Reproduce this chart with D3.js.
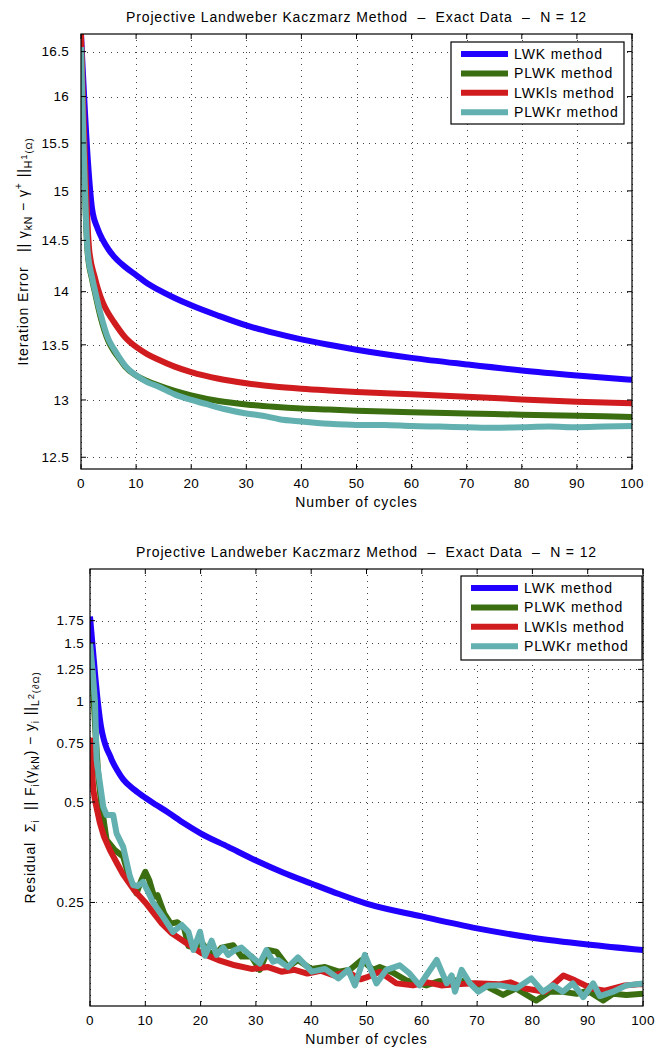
<!DOCTYPE html>
<html>
<head>
<meta charset="utf-8">
<script src="https://cdn.jsdelivr.net/npm/d3@7"></script>
<style>
  body { margin: 0; background: #fff; }
  svg text { font-family: "Liberation Sans", Arial, Helvetica, sans-serif; fill: #000; white-space: pre; }
</style>
</head>
<body>
<svg id="chart" width="657" height="1051"></svg>
<script>
// ---- data ----
const titleText = "Projective Landweber Kaczmarz Method  \u2013  Exact Data  \u2013  N = 12";
const methodNames = ["LWK method", "PLWK method", "LWKls method", "PLWKr method"];
const methodColors = ["#2200ff", "#3a6e10", "#d01c1f", "#62b1b0"];
const xTicks = [0, 10, 20, 30, 40, 50, 60, 70, 80, 90, 100];

// top panel: iteration error (log y)
const errTicks = [12.5, 13, 13.5, 14, 14.5, 15, 15.5, 16, 16.5];
const errCyclesLWK = [0, 1.3, 2, 3, 4, 5, 6, 8, 10, 12, 14, 17, 20, 25, 30, 35, 40, 45, 50, 60, 70, 80, 90, 100];
const errLWK = [16.7, 15.27, 14.82, 14.62, 14.5, 14.41, 14.34, 14.24, 14.16, 14.08, 14.02, 13.94, 13.87, 13.77, 13.68, 13.61, 13.55, 13.5, 13.455, 13.38, 13.32, 13.265, 13.22, 13.18];
const errCyclesPLWK = [0, 1.2, 2, 2.5, 3.5, 5, 6, 7, 8, 10, 12, 14, 17, 20, 25, 30, 35, 40, 45, 50, 60, 70, 80, 90, 100];
const errPLWK = [16.55, 14.38, 14.12, 14.0, 13.77, 13.53, 13.44, 13.37, 13.3, 13.22, 13.17, 13.13, 13.08, 13.04, 12.99, 12.96, 12.94, 12.925, 12.915, 12.905, 12.89, 12.88, 12.87, 12.86, 12.85];
const errCyclesLWKls = [0, 1.5, 2.5, 3, 4, 5, 6, 8, 10, 12, 14, 17, 20, 25, 30, 35, 40, 45, 50, 60, 70, 80, 90, 100];
const errLWKls = [16.7, 14.4, 14.14, 14.04, 13.89, 13.79, 13.71, 13.57, 13.48, 13.415, 13.365, 13.3, 13.25, 13.19, 13.15, 13.12, 13.1, 13.085, 13.072, 13.05, 13.028, 13.005, 12.985, 12.97];
const errCyclesPLWKr = [0, 1.2, 2, 2.5, 3.5, 5, 6, 7, 8, 10, 12, 14, 17, 20, 23, 26, 30, 33, 36, 40, 45, 50, 55, 60, 65, 70, 75, 80, 85, 90, 95, 100];
const errPLWKr = [16.55, 14.4, 14.14, 14.02, 13.8, 13.55, 13.46, 13.38, 13.31, 13.22, 13.16, 13.12, 13.05, 13.0, 12.96, 12.92, 12.88, 12.86, 12.83, 12.81, 12.79, 12.78, 12.78, 12.77, 12.765, 12.76, 12.755, 12.76, 12.765, 12.76, 12.765, 12.77];

// bottom panel: residual (log y)
const resTicks = [0.25, 0.5, 0.75, 1, 1.25, 1.5, 1.75];
const resCyclesLWK = [0, 0.5, 1, 1.5, 2, 2.5, 3, 3.6, 4, 5, 6, 8, 10, 12, 14, 17, 20, 25, 30, 35, 40, 45, 50, 60, 70, 80, 90, 100];
const resLWK = [1.8, 1.45, 1.17, 0.97, 0.84, 0.77, 0.725, 0.69, 0.665, 0.62, 0.585, 0.545, 0.515, 0.49, 0.467, 0.432, 0.403, 0.367, 0.334, 0.307, 0.285, 0.265, 0.248, 0.227, 0.209, 0.196, 0.187, 0.18];
const resCyclesPLWK = [0, 0.5, 1, 1.5, 2, 3, 4.5, 6, 7.2, 8.4, 9.3, 10, 10.7, 11.6, 12.2, 13.4, 14.6, 15.8, 17, 17.8, 19, 20.2, 21.4, 22.6, 23.8, 25.9, 27.4, 29.2, 30.7, 32.2, 33.7, 35.8, 37.6, 40, 42.5, 45, 47, 49.1, 51.2, 52.4, 54.8, 57.2, 60.8, 63, 66.9, 69, 71.7, 74.7, 77, 80.7, 83.1, 85.5, 88, 90, 92.8, 94.6, 97, 100];
const resPLWK = [1.45, 1.15, 0.8, 0.6, 0.5, 0.385, 0.359, 0.343, 0.292, 0.266, 0.292, 0.309, 0.292, 0.26, 0.263, 0.232, 0.216, 0.218, 0.21, 0.185, 0.183, 0.19, 0.178, 0.174, 0.183, 0.186, 0.172, 0.172, 0.157, 0.18, 0.178, 0.16, 0.168, 0.158, 0.16, 0.155, 0.157, 0.168, 0.157, 0.16, 0.154, 0.146, 0.141, 0.145, 0.146, 0.143, 0.14, 0.132, 0.138, 0.127, 0.135, 0.135, 0.133, 0.136, 0.127, 0.133, 0.132, 0.133];
const resCyclesLWKls = [0, 0.3, 0.6, 1, 1.8, 2.5, 3.6, 5, 6, 8, 10, 13, 14.8, 17.2, 20.2, 23.2, 26.2, 29.2, 32.2, 34.6, 37, 39.3, 41.7, 44.1, 46.5, 48.9, 50, 52.4, 55.4, 58.4, 61, 63.5, 66.1, 69.7, 73.9, 76, 78.7, 82.3, 85.6, 87.7, 90.7, 93.1, 96.7, 99.1, 100];
const resLWKls = [0.78, 0.646, 0.544, 0.497, 0.432, 0.395, 0.359, 0.325, 0.303, 0.272, 0.25, 0.216, 0.202, 0.19, 0.176, 0.168, 0.162, 0.158, 0.16, 0.155, 0.157, 0.153, 0.156, 0.151, 0.155, 0.147, 0.149, 0.155, 0.143, 0.141, 0.144, 0.141, 0.142, 0.143, 0.142, 0.144, 0.138, 0.135, 0.151, 0.146, 0.138, 0.136, 0.141, 0.142, 0.142];
const resCyclesPLWKr = [0, 0.5, 0.9, 1.2, 1.8, 2.4, 3, 4.2, 4.8, 6, 7.2, 7.8, 8.6, 9.6, 10.5, 11.4, 13, 15, 16.6, 17.8, 18.7, 19.9, 20.8, 22, 22.9, 24.1, 25, 26.2, 27.4, 29.2, 30.7, 31.9, 33.1, 34, 35.8, 37.6, 40.1, 42.5, 44.9, 46.7, 47.9, 49.7, 51.8, 53.6, 56, 57.8, 59.6, 60.8, 62.7, 64.5, 65.4, 66, 67.2, 68.7, 70.2, 72, 74.1, 77.1, 79.8, 81.9, 83.7, 85.5, 87.3, 89.2, 91, 92.2, 94.6, 97, 100];
const resPLWKr = [1.5, 1.22, 1.0, 0.669, 0.569, 0.484, 0.457, 0.457, 0.403, 0.367, 0.3, 0.282, 0.28, 0.288, 0.269, 0.25, 0.229, 0.204, 0.214, 0.204, 0.18, 0.204, 0.173, 0.192, 0.174, 0.183, 0.174, 0.18, 0.183, 0.172, 0.164, 0.18, 0.166, 0.168, 0.16, 0.171, 0.155, 0.158, 0.148, 0.157, 0.141, 0.174, 0.143, 0.157, 0.162, 0.153, 0.141, 0.151, 0.168, 0.143, 0.151, 0.135, 0.157, 0.143, 0.135, 0.141, 0.141, 0.138, 0.148, 0.135, 0.141, 0.135, 0.143, 0.13, 0.143, 0.131, 0.135, 0.141, 0.143];

const svg = d3.select("#chart");
const LS = "0.9px";   // the reference glyphs run wider than Liberation Sans

function pairs(xs, ys) {
    return xs.map((x, i) => ({ x, y: ys[i] }));
}

function drawPanel(cfg) {
    const x = d3.scaleLinear().domain([0, 100]).range([cfg.left, cfg.right]);
    const y = d3.scaleLog().domain(cfg.yDomain).range([cfg.bottom, cfg.top]);
    const g = svg.append("g");

    // grid (dotted, MATLAB style)
    g.selectAll(".vgrid").data(xTicks).enter().append("line")
        .attr("x1", d => Math.round(x(d)) + 0.5).attr("x2", d => Math.round(x(d)) + 0.5)
        .attr("y1", cfg.top).attr("y2", cfg.bottom)
        .attr("stroke", "#444").attr("stroke-width", 1)
        .attr("stroke-dasharray", "1,5");
    g.selectAll(".hgrid").data(cfg.yTicks).enter().append("line")
        .attr("x1", cfg.left).attr("x2", cfg.right)
        .attr("y1", d => Math.round(y(d)) + 0.5).attr("y2", d => Math.round(y(d)) + 0.5)
        .attr("stroke", "#444").attr("stroke-width", 1)
        .attr("stroke-dasharray", "1,5");

    // curves
    const clipId = "clip" + cfg.id;
    svg.append("defs").append("clipPath").attr("id", clipId)
        .append("rect")
        .attr("x", cfg.left).attr("y", cfg.top)
        .attr("width", cfg.right - cfg.left).attr("height", cfg.bottom - cfg.top);

    g.append("g").attr("clip-path", `url(#${clipId})`)
        .selectAll("path").data(cfg.series).enter().append("path")
        .attr("d", d => d3.line().curve(d.smooth ? d3.curveMonotoneX : d3.curveLinear)
            .x(p => x(p.x)).y(p => y(p.y))(d.points))
        .attr("fill", "none")
        .attr("stroke", d => d.color)
        .attr("stroke-width", 6)
        .attr("stroke-linejoin", "round")
        .attr("stroke-linecap", "butt");

    // box
    g.append("rect")
        .attr("x", cfg.left).attr("y", cfg.top)
        .attr("width", cfg.right - cfg.left).attr("height", cfg.bottom - cfg.top)
        .attr("fill", "none").attr("stroke", "#000").attr("stroke-width", 1.2);

    // inward ticks on all four sides
    const tl = 5;
    xTicks.forEach(t => {
        g.append("line").attr("x1", x(t)).attr("x2", x(t))
            .attr("y1", cfg.bottom).attr("y2", cfg.bottom - tl).attr("stroke", "#000");
        g.append("line").attr("x1", x(t)).attr("x2", x(t))
            .attr("y1", cfg.top).attr("y2", cfg.top + tl).attr("stroke", "#000");
    });
    cfg.yTicks.forEach(t => {
        g.append("line").attr("x1", cfg.left).attr("x2", cfg.left + tl)
            .attr("y1", y(t)).attr("y2", y(t)).attr("stroke", "#000");
        g.append("line").attr("x1", cfg.right).attr("x2", cfg.right - tl)
            .attr("y1", y(t)).attr("y2", y(t)).attr("stroke", "#000");
    });

    // tick labels
    g.selectAll(".xlab").data(xTicks).enter().append("text")
        .attr("x", d => x(d)).attr("y", cfg.bottom + 19)
        .attr("text-anchor", "middle").attr("font-size", 13.5)
        .style("letter-spacing", "0.3px")
        .text(d => d);
    g.selectAll(".ylab").data(cfg.yTicks).enter().append("text")
        .attr("x", cfg.left - cfg.yLabGap).attr("y", d => y(d) + 4.8)
        .attr("text-anchor", "end").attr("font-size", 13.5)
        .style("letter-spacing", "0.3px")
        .text(d => d);

    // title + x label
    g.append("text")
        .attr("x", (cfg.left + cfg.right) / 2).attr("y", cfg.top - 12)
        .attr("text-anchor", "middle").attr("font-size", 14)
        .style("letter-spacing", "0.85px")
        .text(titleText);
    g.append("text")
        .attr("x", (cfg.left + cfg.right) / 2).attr("y", cfg.bottom + 38)
        .attr("text-anchor", "middle").attr("font-size", 14)
        .style("letter-spacing", LS)
        .text("Number of cycles");

    // y label with sub/superscripts
    const yl = g.append("text")
        .attr("transform", `translate(${cfg.yLabelX},${(cfg.top + cfg.bottom) / 2}) rotate(-90)`)
        .attr("text-anchor", "middle").attr("font-size", 14)
        .style("letter-spacing", LS);
    let prev = 0;
    cfg.yLabel.forEach(s => {
        const off = s.o || 0;
        yl.append("tspan")
            .attr("dy", off - prev)
            .attr("font-size", s.s || 14)
            .text(s.t);
        prev = off;
    });

    // legend
    const lg = cfg.legend;
    g.append("rect")
        .attr("x", lg.x).attr("y", lg.y).attr("width", lg.w).attr("height", lg.h)
        .attr("fill", "#fff").attr("stroke", "#000").attr("stroke-width", 1.2);
    cfg.series.forEach((s, i) => {
        const cy = lg.y + 12 + i * 19.4;
        g.append("line")
            .attr("x1", lg.x + 10).attr("x2", lg.x + 57)
            .attr("y1", cy).attr("y2", cy)
            .attr("stroke", s.color).attr("stroke-width", 6);
        g.append("text")
            .attr("x", lg.x + 63).attr("y", cy + 5)
            .attr("font-size", 14)
            .style("letter-spacing", LS)
            .text(s.name);
    });
}

drawPanel({
    id: "err",
    left: 81, right: 632, top: 34, bottom: 469,
    yDomain: [12.4, 16.7],
    yTicks: errTicks,
    yLabGap: 12,
    yLabelX: 28,
    yLabel: [
        { t: "Iteration Error   || \u03b3" },
        { t: "kN", o: 4, s: 10.5 },
        { t: " \u2212 \u03b3" },
        { t: "+", o: -6, s: 10.5 },
        { t: " ||" },
        { t: "H", o: 4, s: 10.5 },
        { t: "1", o: -1, s: 9.5 },
        { t: "(\u03a9)", o: 4, s: 9.5 }
    ],
    legend: { x: 451, y: 42, w: 173, h: 82 },
    series: [
        { name: methodNames[0], color: methodColors[0], smooth: true, points: pairs(errCyclesLWK, errLWK) },
        { name: methodNames[1], color: methodColors[1], smooth: true, points: pairs(errCyclesPLWK, errPLWK) },
        { name: methodNames[2], color: methodColors[2], smooth: true, points: pairs(errCyclesLWKls, errLWKls) },
        { name: methodNames[3], color: methodColors[3], smooth: true, points: pairs(errCyclesPLWKr, errPLWKr) }
    ]
});

drawPanel({
    id: "res",
    left: 90, right: 643, top: 569, bottom: 1006,
    yDomain: [0.1223, 2.5],
    yTicks: resTicks,
    yLabGap: 6,
    yLabelX: 35,
    yLabel: [
        { t: "Residual  \u03a3" },
        { t: "i", o: 4, s: 10.5 },
        { t: "  || F" },
        { t: "i", o: 4, s: 10.5 },
        { t: "(\u03b3" },
        { t: "kN", o: 4, s: 10.5 },
        { t: ") \u2212 y" },
        { t: "i", o: 4, s: 10.5 },
        { t: " ||" },
        { t: "L", o: 4, s: 10.5 },
        { t: "2", o: -1, s: 9.5 },
        { t: "(\u2202\u03a9)", o: 4, s: 9.5 }
    ],
    legend: { x: 461, y: 576, w: 181, h: 84 },
    series: [
        { name: methodNames[0], color: methodColors[0], smooth: true, points: pairs(resCyclesLWK, resLWK) },
        { name: methodNames[1], color: methodColors[1], smooth: false, points: pairs(resCyclesPLWK, resPLWK) },
        { name: methodNames[2], color: methodColors[2], smooth: false, points: pairs(resCyclesLWKls, resLWKls) },
        { name: methodNames[3], color: methodColors[3], smooth: false, points: pairs(resCyclesPLWKr, resPLWKr) }
    ]
});
</script>
</body>
</html>
